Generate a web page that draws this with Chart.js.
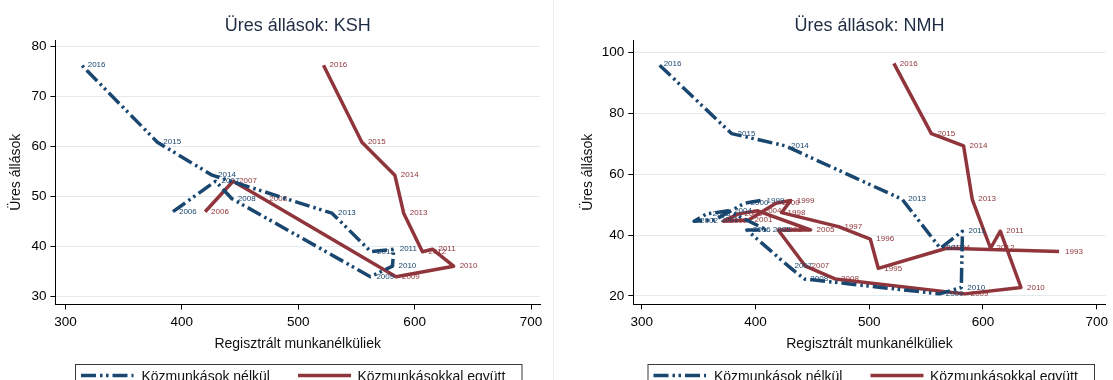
<!DOCTYPE html>
<html>
<head>
<meta charset="utf-8">
<script src="https://cdn.jsdelivr.net/npm/chart.js@4.4.1/dist/chart.umd.min.js"></script>
<style>
  html, body { margin: 0; padding: 0; background: #fff; }
  #wrap { position: relative; width: 1113px; height: 380px; overflow: hidden; }
  canvas { position: absolute; top: 0; }
  #left { left: 0; }
  #right { left: 556px; }
</style>
</head>
<body>
<div id="wrap">
  <canvas id="left" width="556" height="380"></canvas>
  <canvas id="right" width="557" height="380"></canvas>
</div>
<script>
// Years covered by the series
const years = [1993, 1994, 1995, 1996, 1997, 1998, 1999, 2000, 2001, 2002, 2003, 2004,
               2005, 2006, 2007, 2008, 2009, 2010, 2011, 2012, 2013, 2014, 2015, 2016];

// Registered unemployed (thousand), without public workers
const regUnemployed = [null, null, null, null, null, null, 404.5, 390.5, 364, 346, 357, 376,
                       410, 392.4, 429, 443, 562, 581, 582, 562.5, 529, 426, 379, 314];

// Registered unemployed (thousand), public workers included
const regWithPublicWorks = [667, 568, 508, 501, 473, 423, 431, 418, 394, 372, 385, 402,
                            448.5, 420, 444, 470, 584, 633.5, 615.3, 606.7, 590.6, 583, 554.7, 521.7];

// Vacancies (thousand): KSH survey
const vacanciesKSH = [null, null, null, null, null, null, null, null, null, null, null, null,
                      null, 47.0, 53.1, 49.6, 34.0, 36.1, 39.5, 39.0, 46.7, 54.3, 60.9, 76.3];

// Vacancies (thousand): NMH registry
const vacanciesNMH = [34.6, 35.7, 29.1, 38.7, 42.8, 47.4, 51.4, 50.5, 45.0, 44.6, 47.0, 48.0,
                      41.7, 41.7, 29.8, 25.6, 20.7, 22.8, 41.3, 35.7, 51.8, 69.4, 73.4, 96.5];

// Tick labels
const xTicks = [300, 400, 500, 600, 700];
const yTicksKSH = [30, 40, 50, 60, 70, 80];
const yTicksNMH = [20, 40, 60, 80, 100];

// Text
const seriesNames = ['Közmunkások nélkül', 'Közmunkásokkal együtt'];
const panelTitles = ['Üres állások: KSH', 'Üres állások: NMH'];
const xTitle = 'Regisztrált munkanélküliek';
const yTitle = 'Üres állások';

const FONT = "'Liberation Sans', Arial, Helvetica, sans-serif";
const BLUE = '#1a476f';
const RED = '#90353b';
const GRID = '#e3ebee';
const DASH_DOT = [15, 4, 2.5, 3.5, 2.5, 4];

function points(xs, ys) {
  return years
    .map((yr, i) => ({ x: xs[i], y: ys[i], year: yr }))
    .filter(p => p.x != null && p.y != null);
}

function series(label, xs, ys, color, dashed) {
  return {
    label,
    data: points(xs, ys),
    showLine: true,
    borderColor: color,
    backgroundColor: color,
    borderWidth: 3.5,
    borderDash: dashed ? DASH_DOT : [],
    borderCapStyle: 'butt',
    borderJoinStyle: 'round',
    pointRadius: 0,
    pointHoverRadius: 0,
    tension: 0,
    dashed
  };
}

// Titles, axis titles, year labels and the boxed legend
function decorations(cfg) {
  return {
    id: 'decorations',
    afterDatasetDraw(chart, args) {
      const ds = chart.data.datasets[args.index];
      const ctx = chart.ctx;
      ctx.save();
      ctx.font = '8px ' + FONT;
      ctx.fillStyle = ds.borderColor;
      ctx.textAlign = 'left';
      ctx.textBaseline = 'middle';
      args.meta.data.forEach((el, i) => {
        ctx.fillText(String(ds.data[i].year), el.x + 6, el.y);
      });
      ctx.restore();
    },
    afterDraw(chart) {
      const ctx = chart.ctx;
      const a = chart.chartArea;
      ctx.save();

      if (cfg.separator) {
        ctx.strokeStyle = '#edf1f3';
        ctx.lineWidth = 1;
        ctx.beginPath();
        ctx.moveTo(cfg.separator, 0);
        ctx.lineTo(cfg.separator, 380);
        ctx.stroke();
      }

      // panel title
      ctx.fillStyle = '#1f2d44';
      ctx.font = '18px ' + FONT;
      ctx.textAlign = 'center';
      ctx.textBaseline = 'alphabetic';
      ctx.fillText(cfg.title, (a.left + a.right) / 2, 31);

      // x axis title
      ctx.fillStyle = '#111';
      ctx.font = '14px ' + FONT;
      ctx.fillText(xTitle, (a.left + a.right) / 2, 347.5);

      // y axis title
      ctx.save();
      ctx.translate(cfg.yTitleX, (a.top + a.bottom) / 2);
      ctx.rotate(-Math.PI / 2);
      ctx.textBaseline = 'middle';
      ctx.fillText(yTitle, 0, 0);
      ctx.restore();

      // legend
      const bx = cfg.legendLeft, by = 364.5, bw = 446.5;
      ctx.strokeStyle = '#3a3a3a';
      ctx.lineWidth = 1;
      ctx.strokeRect(bx + 0.5, by, bw, 40);
      const items = [
        { ds: chart.data.datasets[0], x0: 6, x1: 58.5, tx: 66.5 },
        { ds: chart.data.datasets[1], x0: 223, x1: 276, tx: 282.5 }
      ];
      items.forEach(it => {
        ctx.save();
        ctx.strokeStyle = it.ds.borderColor;
        ctx.lineWidth = 3.5;
        ctx.lineCap = 'butt';
        ctx.setLineDash(it.ds.dashed ? DASH_DOT : []);
        ctx.beginPath();
        ctx.moveTo(bx + it.x0, 375.5);
        ctx.lineTo(bx + it.x1, 375.5);
        ctx.stroke();
        ctx.restore();
        ctx.fillStyle = '#111';
        ctx.font = '14px ' + FONT;
        ctx.textAlign = 'left';
        ctx.textBaseline = 'alphabetic';
        ctx.fillText(it.ds.label, bx + it.tx, 380.5);
      });
      ctx.restore();
    }
  };
}

function panel(id, cfg) {
  const w = cfg.width, h = 380;
  return new Chart(document.getElementById(id), {
    type: 'scatter',
    data: {
      datasets: [
        series(seriesNames[0], regUnemployed, cfg.vacancies, BLUE, true),
        series(seriesNames[1], regWithPublicWorks, cfg.vacancies, RED, false)
      ]
    },
    options: {
      responsive: false,
      animation: false,
      events: [],
      layout: { padding: { left: 0, top: cfg.area.top, right: w - cfg.area.right, bottom: 0 } },
      plugins: {
        legend: { display: false },
        tooltip: { enabled: false },
        title: { display: false }
      },
      scales: {
        x: {
          type: 'linear',
          min: cfg.xMin,
          max: cfg.xMax,
          afterBuildTicks: s => { s.ticks = xTicks.map(v => ({ value: v })); },
          afterFit: s => { s.height = h - cfg.area.bottom; },
          grid: { drawOnChartArea: false, drawTicks: true, tickLength: 5, tickColor: '#000', tickWidth: 1 },
          border: { display: true, color: '#000', width: 1 },
          ticks: { color: '#000', font: { family: FONT, size: 13.5 }, padding: 5, maxRotation: 0, autoSkip: false }
        },
        y: {
          type: 'linear',
          min: cfg.yMin,
          max: cfg.yMax,
          afterBuildTicks: s => { s.ticks = cfg.yTicks.map(v => ({ value: v })); },
          afterFit: s => { s.width = cfg.area.left; },
          grid: { color: GRID, lineWidth: 1, drawTicks: true, tickLength: 5, tickColor: '#000', tickWidth: 1 },
          border: { display: true, color: '#000', width: 1 },
          ticks: { color: '#000', font: { family: FONT, size: 13.5 }, padding: 4, autoSkip: false }
        }
      }
    },
    plugins: [decorations(cfg)]
  });
}

panel('left', {
  width: 556,
  area: { left: 55.4, right: 540, top: 40, bottom: 304.5 },
  xMin: 291.4, xMax: 707.7,
  yMin: 28.44, yMax: 81.34,
  yTicks: yTicksKSH,
  vacancies: vacanciesKSH,
  title: panelTitles[0],
  yTitleX: 16.5,
  legendLeft: 75,
  separator: 553.5
});

panel('right', {
  width: 557,
  area: { left: 77.3, right: 552, top: 40, bottom: 304.3 },
  xMin: 292.6, xMax: 707.9,
  yMin: 17.27, yMax: 104.18,
  yTicks: yTicksNMH,
  vacancies: vacanciesNMH,
  title: panelTitles[1],
  yTitleX: 32,
  legendLeft: 91.5
});
</script>
</body>
</html>
